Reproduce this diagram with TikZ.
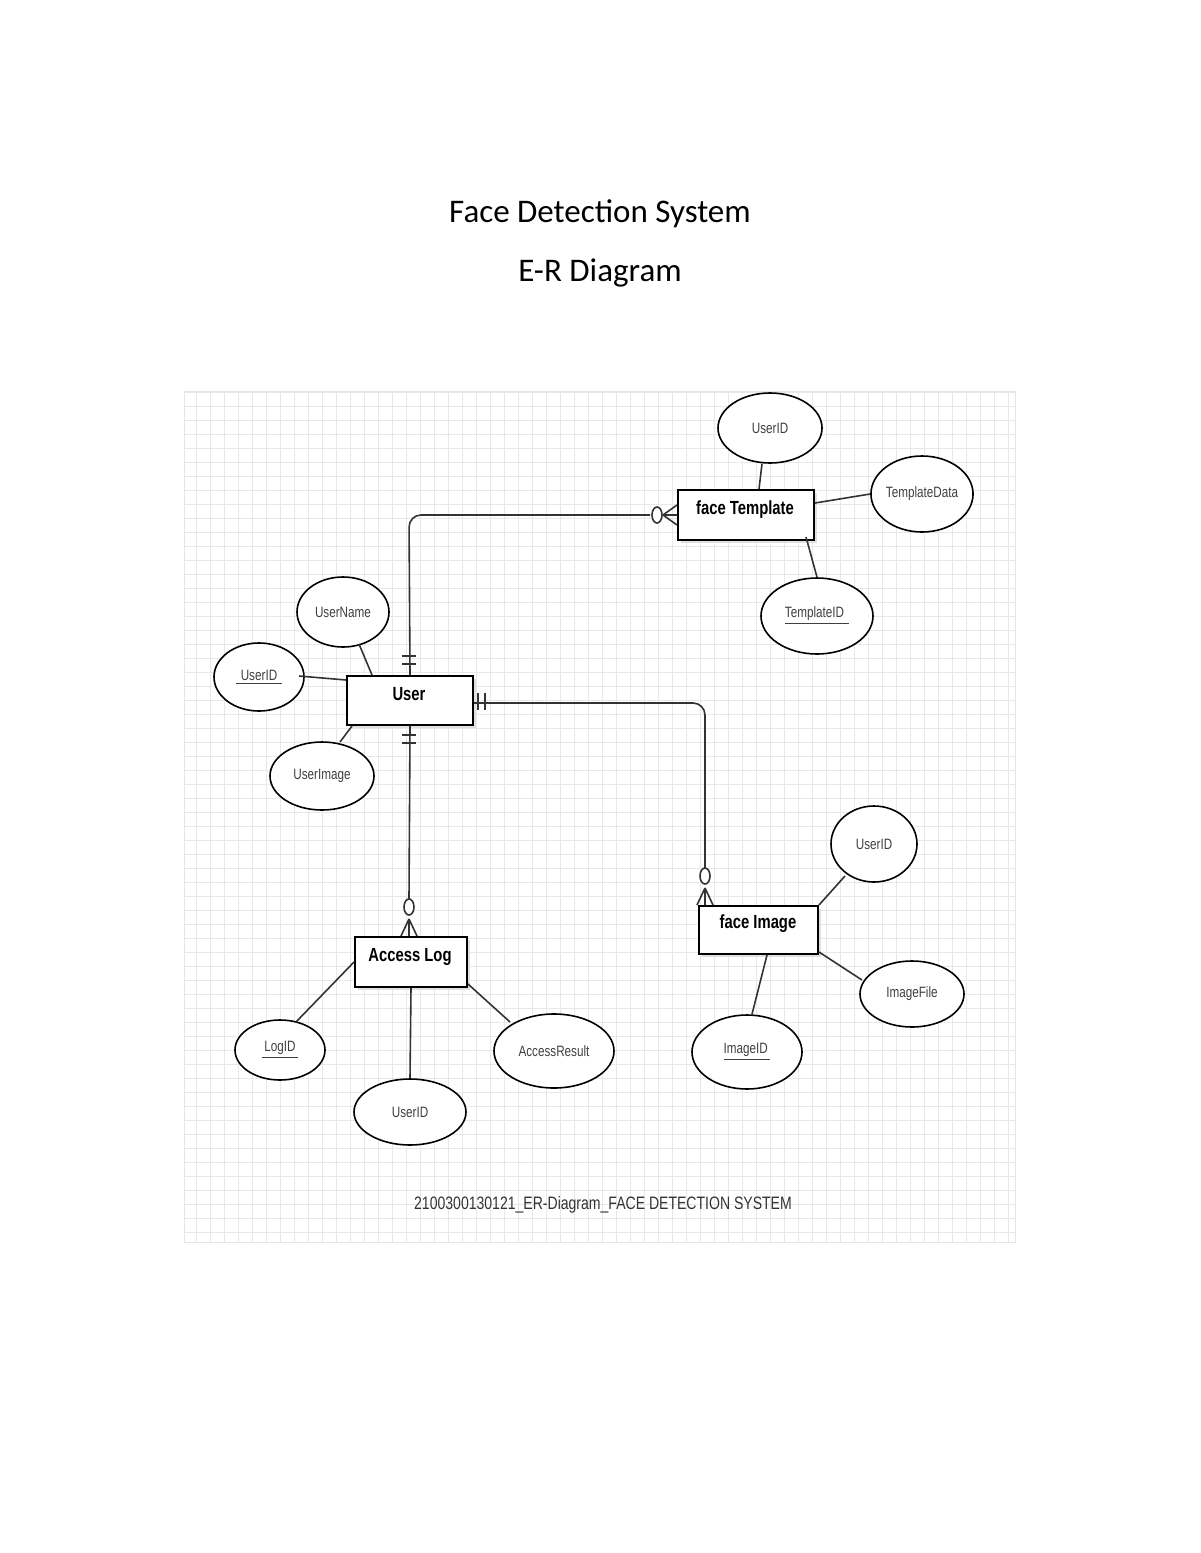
\documentclass[tikz,border=0pt]{standalone}
\usepackage{fontspec}
\setmainfont{Carlito}
\newfontfamily\arialn[FakeStretch=0.78]{Liberation Sans}
\usetikzlibrary{shapes.geometric,calc}
\tikzset{
 ent/.style={draw,line width=1pt,fill=white,inner sep=0pt,anchor=north west},
 elab/.style={font=\arialn\bfseries\fontsize{9.5}{11}\selectfont},
 att/.style={draw,ellipse,line width=0.8pt,fill=white,inner sep=0pt,font=\arialn\fontsize{7.5}{9}\selectfont,text=black!75},
 ln/.style={line width=0.8pt,black!80},
}
\begin{document}
\begin{tikzpicture}[x=0.5pt,y=-0.5pt]
\useasboundingbox (0,0) rectangle (1200,1553);
\node at (600,214) {\fontsize{16.5}{20}\selectfont Face Detection System};
\node at (600,273) {\fontsize{16.5}{20}\selectfont E-R Diagram};
% grid
\draw[black!9,line width=0.4pt] (184,391) grid[step=7pt] (1015,1242);
\draw[black!10] (184,391) rectangle (1015,1242);
% entities with shadow
\foreach \a/\b/\c/\d in {677/489/813/539,346/675/472/724,354/936/466/986,698/905/817/953}
  \fill[black!12] (\a+4,\b+4) rectangle (\c+4,\d+4);
\node[ent,minimum width=68pt,minimum height=25pt] (ft) at (677,489) {};
\node[elab] at (745,510) {face Template};
\node[ent,minimum width=63pt,minimum height=24.5pt] (user) at (346,675) {};
\node[elab] at (409,694) {User};
\node[ent,minimum width=56pt,minimum height=25pt] (al) at (354,936) {};
\node[elab] at (410,957) {Access Log};
\node[ent,minimum width=59.5pt,minimum height=24pt] (fi) at (698,905) {};
\node[elab] at (758,924) {face Image};
% attributes
\node[att,minimum width=52pt,minimum height=35pt] (a1) at (770,428) {UserID};
\node[att,minimum width=48pt,minimum height=38pt] (a2) at (922,494) {TemplateData};
\node[att,minimum width=56pt,minimum height=38pt] (a3) at (817,616) {\underline{TemplateID\,\,}};
\node[att,minimum width=46pt,minimum height=35pt] (a4) at (343,612) {UserName};
\node[att,minimum width=45pt,minimum height=34pt] (a5) at (259,677) {\underline{\,\,UserID\,\,}};
\node[att,minimum width=52pt,minimum height=34pt] (a6) at (322,776) {UserImage};
\node[att,minimum width=45pt,minimum height=30pt] (a7) at (280,1050) {\underline{\,LogID\,}};
\node[att,minimum width=56pt,minimum height=33pt] (a8) at (410,1112) {UserID};
\node[att,minimum width=60pt,minimum height=37pt] (a9) at (554,1051) {AccessResult};
\node[att,minimum width=43pt,minimum height=38pt] (a10) at (874,844) {UserID};
\node[att,minimum width=52pt,minimum height=33pt] (a11) at (912,994) {ImageFile};
\node[att,minimum width=55pt,minimum height=37pt] (a12) at (747,1052) {\underline{ImageID\,}};
% attribute lines
\draw[ln] (a1.south) ++(-8,0) -- ($(ft.north west)+(82,0)$);
\draw[ln] (a2.west) -- ($(ft.north east)+(0,14)$);
\draw[ln] (a3.north) -- ($(ft.south east)+(-9,-4)$);
\draw[ln] (a4) ++(16,32) -- ($(user.north west)+(26,0)$);
\draw[ln] (a5) ++(40,-1) -- ($(user.north west)+(0,5)$);
\draw[ln] (a6) ++(18,-34) -- ($(user.south west)+(6,0)$);
\draw[ln] (a7) ++(16,-28) -- ($(al.north west)+(0,26)$);
\draw[ln] (a8.north) -- (al.south);
\draw[ln] (a9) ++(-44,-29) -- ($(al.north east)+(0,48)$);
\draw[ln] (a10) ++(-29,32) -- ($(fi.north east)+(0,0)$);
\draw[ln] (a11) ++(-50,-14) -- ($(fi.south east)+(0,-3)$);
\draw[ln] (a12.north) ++(5,0) -- ($(fi.south west)+(69,0)$);
% relationships
\coordinate (c1) at (ft.west |- 0,515);
\draw[ln,rounded corners=6pt] (user.north) -- (409,515) -- (650,515);
\draw[ln] (663,515) -- (677,505) (663,515) -- (677,525) (663,515) -- (c1);
\draw[ln,fill=white] (657,515) ellipse (5 and 8);
\draw[ln] (402,656) -- (416,656) (402,664) -- (416,664);
\draw[ln,rounded corners=6pt] (user.east |- 0,703) -- (705,703) -- (705,868);
\draw[ln] (705,888) -- (697,905) (705,888) -- (713,905) (705,888) -- (705,905);
\draw[ln,fill=white] (705,876) ellipse (5 and 8);
\draw[ln] (478,693) -- (478,710) (485,693) -- (485,710);
\draw[ln] (user.south) -- (409,899);
\draw[ln] (409,919) -- (401,936) (409,919) -- (417,936) (409,919) -- (409,936);
\draw[ln,fill=white] (409,907) ellipse (5 and 8);
\draw[ln] (402,735) -- (416,735) (402,743) -- (416,743);
\node[font=\arialn\fontsize{9}{11}\selectfont,text=black!80] at (603,1205) {2100300130121\_ER-Diagram\_FACE DETECTION SYSTEM};
\end{tikzpicture}
\end{document}
